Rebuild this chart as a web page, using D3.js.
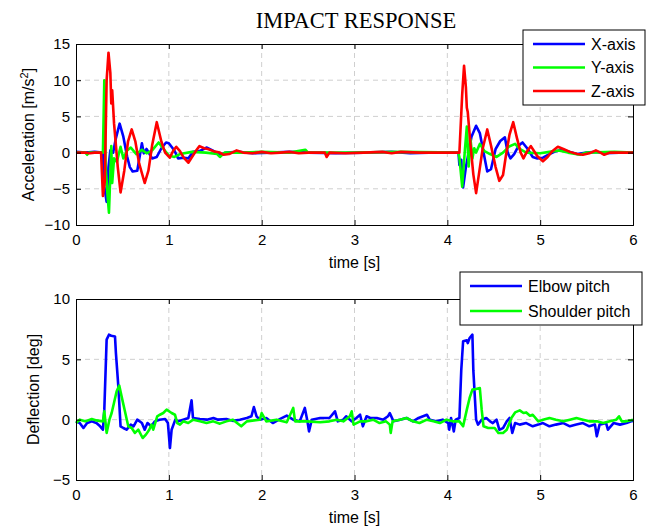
<!DOCTYPE html>
<html>
<head>
<meta charset="utf-8">
<script src="https://cdn.jsdelivr.net/npm/d3@7"></script>
<style>
  body { margin: 0; background: #fff; }
  svg { display: block; font-family: "Liberation Sans", Arial, sans-serif; }
  .tick text { font-size: 15px; fill: #000; }
  .axis path, .axis line { stroke: #000; }
</style>
</head>
<body>
<script>
// ---- data (time [s], value) ----
var accX = [[0,0.1],[0.1,0],[0.2,0.1],[0.29,0],[0.305,-4.7],[0.33,-6.8],[0.35,-2],[0.37,0.3],[0.4,0],[0.43,2],[0.47,4.0],[0.51,2.2],[0.55,-0.5],[0.58,-2],[0.61,-2.6],[0.66,-2.5],[0.68,-1],[0.71,1.3],[0.73,-0.1],[0.76,0.5],[0.82,-0.8],[0.87,-0.6],[0.92,0.6],[0.97,1.4],[1.0,1.3],[1.06,0.3],[1.1,-0.8],[1.16,-0.7],[1.21,-0.8],[1.26,0.1],[1.33,0.2],[1.41,0.7],[1.47,0.3],[1.55,-0.3],[1.62,0],[1.75,0.1],[1.9,-0.1],[2.1,0],[2.3,0.1],[2.5,0],[2.8,-0.1],[3.1,0],[3.4,0.1],[3.6,-0.1],[3.8,0],[4.12,0],[4.13,-1.7],[4.15,-1],[4.17,-4.8],[4.2,-2],[4.23,0],[4.26,2.2],[4.31,3.7],[4.35,2.7],[4.39,0],[4.43,-2.6],[4.47,-2.3],[4.52,0.5],[4.57,1.6],[4.62,2.1],[4.65,0],[4.68,-0.8],[4.72,-0.2],[4.77,1],[4.81,1.4],[4.86,0.6],[4.92,-0.6],[4.97,-0.8],[5.03,-0.7],[5.1,-0.2],[5.17,0.2],[5.24,0.4],[5.32,0.1],[5.4,-0.2],[5.5,0],[5.6,0.1],[5.7,-0.1],[5.85,0],[6,0]];
var accY = [[0,0],[0.1,0],[0.12,-0.3],[0.14,0],[0.29,0],[0.305,10.0],[0.32,-2],[0.34,-6],[0.355,-8.3],[0.37,-3],[0.38,0.9],[0.39,-4.2],[0.41,-0.8],[0.44,-1.3],[0.48,0.8],[0.51,-0.8],[0.55,0.3],[0.59,0.7],[0.65,-0.2],[0.71,0.4],[0.76,-0.1],[0.82,0.3],[0.89,1.4],[0.95,0.4],[1.0,-0.4],[1.06,-0.6],[1.12,-0.2],[1.25,0.1],[1.4,0],[1.52,-0.2],[1.55,-0.6],[1.6,0],[1.8,0],[2.0,0.1],[2.3,0],[2.47,0.4],[2.5,0],[3.0,0],[3.5,0.1],[4.12,0],[4.13,-0.7],[4.16,-4.7],[4.19,0.5],[4.21,3.6],[4.23,-1.9],[4.25,1.8],[4.27,-0.8],[4.29,0.6],[4.31,0],[4.35,1.2],[4.4,0.2],[4.46,-0.2],[4.53,-0.6],[4.6,0],[4.66,0.8],[4.73,1.2],[4.78,0.5],[4.85,0],[5.0,-0.1],[5.1,0.1],[5.2,0.3],[5.3,0],[5.43,-0.3],[5.5,0],[5.8,0.1],[6,0]];
var accZ = [[0,0],[0.1,0],[0.15,-0.1],[0.2,0],[0.27,0],[0.29,-6.0],[0.31,-4],[0.33,10],[0.35,13.8],[0.37,11],[0.38,6.8],[0.39,8.6],[0.41,4],[0.45,-2],[0.48,-5.5],[0.52,-2.5],[0.56,1.5],[0.6,3.2],[0.64,1.5],[0.68,-1.5],[0.74,-4.2],[0.78,-2.5],[0.82,1],[0.87,4.2],[0.92,1.5],[0.96,0],[1.01,-0.7],[1.05,0.3],[1.08,0.8],[1.12,0.2],[1.16,-0.7],[1.21,-1.4],[1.26,-0.4],[1.3,0.4],[1.33,0.9],[1.38,0.6],[1.42,0.5],[1.48,0.2],[1.55,0],[1.59,-0.3],[1.65,-0.2],[1.73,0.3],[1.8,0],[1.9,-0.1],[2.0,0.1],[2.1,-0.1],[2.2,0],[2.3,0.1],[2.4,-0.1],[2.5,0],[2.68,0],[2.7,-0.6],[2.73,0],[2.9,-0.1],[3.1,0],[3.3,0.1],[3.4,-0.1],[3.5,0.1],[3.7,0],[4.13,0],[4.16,8],[4.18,12.0],[4.2,9],[4.21,6.2],[4.22,5.6],[4.25,1],[4.28,-3],[4.31,-5.6],[4.34,-3],[4.38,0.5],[4.43,3.2],[4.47,1],[4.52,-2],[4.56,-3.9],[4.6,-3.1],[4.63,-0.5],[4.67,2.5],[4.71,4.2],[4.75,2],[4.79,0],[4.82,-0.8],[4.86,0.2],[4.9,0.9],[4.93,0.3],[4.97,-0.5],[5.03,-1.2],[5.08,-0.6],[5.13,0.2],[5.19,0.8],[5.25,0.5],[5.32,0.1],[5.4,-0.2],[5.46,-0.3],[5.53,-0.1],[5.6,0.3],[5.65,0],[5.69,-0.3],[5.75,0],[5.85,0],[6,0]];

var elbowPitch = [[0,-0.14],[0.04,-0.28],[0.08,-0.69],[0.12,-0.28],[0.17,-0.14],[0.22,-0.28],[0.26,-0.55],[0.29,-0.83],[0.305,0.83],[0.33,6.63],[0.355,7.04],[0.38,6.96],[0.42,6.9],[0.43,5.52],[0.456,2.76],[0.48,-0.55],[0.51,-0.69],[0.545,-0.83],[0.59,-0.41],[0.62,-0.55],[0.66,0],[0.71,-0.28],[0.74,-0.83],[0.77,-0.28],[0.81,-0.55],[0.85,-0.14],[0.9,0],[0.96,0.06],[0.99,-0.28],[1.012,-2.35],[1.03,-0.83],[1.07,0],[1.1,-0.14],[1.155,0],[1.21,0.14],[1.245,1.6],[1.26,0.14],[1.335,0.06],[1.41,0],[1.48,0.14],[1.53,0],[1.62,0.06],[1.69,-0.1],[1.765,0],[1.84,0.14],[1.89,0.28],[1.916,1.05],[1.945,0.28],[1.98,0],[2.05,0.14],[2.12,-0.28],[2.2,0.06],[2.27,0.33],[2.34,0],[2.41,-0.14],[2.465,0.97],[2.49,0],[2.51,-0.97],[2.54,0],[2.63,0.14],[2.7,0.14],[2.73,0.14],[2.79,0.69],[2.82,-0.14],[2.88,0],[2.91,0.28],[2.97,-0.14],[3.02,0.14],[3.06,0.41],[3.09,-0.55],[3.13,0.28],[3.17,0.14],[3.24,0.14],[3.31,0],[3.36,0.28],[3.38,0.55],[3.42,-0.14],[3.49,0],[3.56,0.14],[3.63,-0.14],[3.69,0.14],[3.78,0.41],[3.81,0],[3.88,-0.14],[3.95,0],[4.01,-0.28],[4.02,-0.83],[4.04,0.14],[4.07,-0.97],[4.09,0],[4.13,0.14],[4.15,4.1],[4.17,6.5],[4.21,6.57],[4.22,6.35],[4.24,6.77],[4.27,7.04],[4.28,4.1],[4.31,0],[4.33,-0.41],[4.37,0],[4.42,0.14],[4.46,-0.14],[4.49,-0.28],[4.53,0],[4.56,-0.83],[4.6,-0.7],[4.64,-0.14],[4.67,0.14],[4.7,-1.1],[4.73,-0.28],[4.78,-0.41],[4.85,-0.28],[4.92,-0.55],[4.98,-0.41],[5.03,-0.28],[5.1,-0.55],[5.17,-0.41],[5.25,-0.28],[5.32,-0.55],[5.39,-0.41],[5.46,-0.28],[5.53,-0.55],[5.59,-0.41],[5.61,-1.38],[5.64,-0.41],[5.71,-0.28],[5.73,-0.83],[5.79,-0.28],[5.86,-0.41],[5.93,-0.28],[5.98,-0.14],[6,-0.1]];
var shoulderPitch = [[0,-0.28],[0.04,0],[0.1,-0.14],[0.17,0.06],[0.22,-0.06],[0.29,-0.14],[0.305,0.69],[0.33,-1.1],[0.36,0],[0.384,0.55],[0.409,1.38],[0.438,2.35],[0.466,2.82],[0.491,1.93],[0.527,0.69],[0.563,-0.55],[0.6,-0.69],[0.635,-1.1],[0.671,-0.83],[0.718,-1.52],[0.753,-1.24],[0.789,-0.83],[0.814,-0.41],[0.832,-0.83],[0.875,0.28],[0.904,0.41],[0.94,0.55],[0.976,0.83],[1.03,0.55],[1.066,0.41],[1.091,-0.28],[1.12,-0.41],[1.155,-0.14],[1.209,-0.28],[1.263,0],[1.335,-0.14],[1.406,-0.28],[1.478,-0.14],[1.55,-0.33],[1.62,-0.14],[1.69,0],[1.78,-0.55],[1.84,-0.14],[1.98,0],[2.0,0.55],[2.05,-0.14],[2.16,0],[2.27,-0.22],[2.34,0.97],[2.36,-0.14],[2.49,-0.14],[2.63,-0.22],[2.73,-0.14],[2.81,0],[2.88,-0.14],[2.95,0.28],[2.97,0.69],[2.99,-0.41],[3.06,-0.14],[3.13,-0.14],[3.2,0],[3.27,-0.28],[3.34,-0.14],[3.38,-0.41],[3.39,-1.1],[3.41,-0.14],[3.49,0],[3.56,0.14],[3.63,-0.14],[3.7,-0.28],[3.78,0],[3.85,-0.14],[3.92,-0.28],[3.99,0],[4.06,-0.14],[4.13,-0.14],[4.17,-0.55],[4.21,0.83],[4.24,1.8],[4.27,2.49],[4.31,2.54],[4.35,2.62],[4.37,0.83],[4.39,-0.55],[4.44,-0.69],[4.51,-0.69],[4.55,-1.1],[4.6,-1.1],[4.64,-0.83],[4.69,0.14],[4.73,0.6],[4.78,0.77],[4.82,0.55],[4.85,0.6],[4.89,0.33],[4.92,0.41],[4.98,-0.14],[5.03,0],[5.1,0.14],[5.17,0],[5.25,-0.14],[5.32,0],[5.39,0.14],[5.46,0],[5.53,-0.14],[5.61,-0.14],[5.68,-0.28],[5.75,-0.14],[5.82,0],[5.85,0.28],[5.88,-0.14],[5.93,-0.14],[5.98,-0.05],[6,0]];

var timeTicks = [0, 1, 2, 3, 4, 5, 6];
var accTicks = [-10, -5, 0, 5, 10, 15];
var deflTicks = [-5, 0, 5, 10];

var accNames = ["X-axis", "Y-axis", "Z-axis"];
var deflNames = ["Elbow pitch", "Shoulder pitch"];
var blue = "#0000ff", green = "#00ff00", red = "#ff0000";

let outerWidth = 655;
let outerHeight = 527;

let svg = d3.select("body")
    .append("svg")
    .attr("width", outerWidth)
    .attr("height", outerHeight);

svg.append("rect")
    .attr("width", outerWidth)
    .attr("height", outerHeight)
    .attr("fill", "#fff");

let xScale = d3.scaleLinear().domain([0, 6]).range([76, 633]);

function drawPanel(opts) {
    let yScale = d3.scaleLinear().domain(opts.domain).range([opts.bottom, opts.top]);
    let g = svg.append("g");

    // dashed grid
    g.selectAll(".vgrid")
        .data(timeTicks.slice(1, -1))
        .enter()
        .append("line")
        .attr("x1", function(d) { return xScale(d); })
        .attr("x2", function(d) { return xScale(d); })
        .attr("y1", opts.top)
        .attr("y2", opts.bottom)
        .attr("stroke", "#cfcfcf")
        .attr("stroke-dasharray", "5,4");
    g.selectAll(".hgrid")
        .data(opts.ticks.slice(1, -1))
        .enter()
        .append("line")
        .attr("x1", xScale(0))
        .attr("x2", xScale(6))
        .attr("y1", function(d) { return yScale(d); })
        .attr("y2", function(d) { return yScale(d); })
        .attr("stroke", "#cfcfcf")
        .attr("stroke-dasharray", "5,4");

    // data lines
    let line = d3.line()
        .x(function(d) { return xScale(d[0]); })
        .y(function(d) { return yScale(d[1]); });
    opts.series.forEach(function(s) {
        g.append("path")
            .attr("d", line(s.values))
            .attr("fill", "none")
            .attr("stroke", s.color)
            .attr("stroke-width", 2.6)
            .attr("stroke-linejoin", "round");
    });

    // axes with inward ticks on all four sides
    g.append("g")
        .attr("class", "axis")
        .attr("transform", "translate(0," + opts.bottom + ")")
        .call(d3.axisBottom(xScale).tickValues(timeTicks).tickSize(-5).tickPadding(9).tickFormat(d3.format("d")));
    g.append("g")
        .attr("class", "axis")
        .attr("transform", "translate(0," + opts.top + ")")
        .call(d3.axisTop(xScale).tickValues(timeTicks).tickSize(-5).tickFormat(""));
    g.append("g")
        .attr("class", "axis")
        .attr("transform", "translate(" + xScale(0) + ",0)")
        .call(d3.axisLeft(yScale).tickValues(opts.ticks).tickSize(-5).tickPadding(6).tickFormat(d3.format("d")));
    g.append("g")
        .attr("class", "axis")
        .attr("transform", "translate(" + xScale(6) + ",0)")
        .call(d3.axisRight(yScale).tickValues(opts.ticks).tickSize(-5).tickFormat(""));
    g.selectAll(".axis .domain").attr("stroke-width", 1);

    // axis labels
    g.append("text")
        .attr("x", (xScale(0) + xScale(6)) / 2)
        .attr("y", opts.bottom + 43)
        .attr("text-anchor", "middle")
        .style("font-size", "16px")
        .text("time [s]");
    let yl = g.append("text")
        .attr("transform", "translate(" + opts.ylabelX + "," + (opts.top + opts.bottom) / 2 + ") rotate(-90)")
        .attr("text-anchor", "middle")
        .style("font-size", "16px")
        .text(opts.ylabel);
    if (opts.ylabelSup) {
        yl.append("tspan").attr("baseline-shift", "super").style("font-size", "11px").text(opts.ylabelSup);
        yl.append("tspan").text("]");
    }

    // legend
    let lg = g.append("g").attr("transform", "translate(" + opts.legend.x + "," + opts.legend.y + ")");
    lg.append("rect")
        .attr("width", opts.legend.w)
        .attr("height", opts.legend.h)
        .attr("fill", "#fff")
        .attr("stroke", "#000");
    let items = lg.selectAll(".item")
        .data(opts.series)
        .enter()
        .append("g")
        .attr("transform", function(d, i) { return "translate(0," + (14 + i * opts.legend.step) + ")"; });
    items.append("line")
        .attr("x1", 10).attr("x2", 62)
        .attr("stroke", function(d) { return d.color; })
        .attr("stroke-width", 2.6);
    items.append("text")
        .attr("x", 68)
        .attr("dy", "0.36em")
        .style("font-size", "16px")
        .text(function(d) { return d.name; });
}

drawPanel({
    top: 44, bottom: 225,
    domain: [-10, 15], ticks: accTicks,
    ylabel: "Acceleration [m/s", ylabelSup: "2", ylabelX: 34,
    series: [
        {name: accNames[0], color: blue, values: accX},
        {name: accNames[1], color: green, values: accY},
        {name: accNames[2], color: red, values: accZ}
    ],
    legend: {x: 523, y: 30, w: 122, h: 75, step: 23.5}
});

drawPanel({
    top: 299, bottom: 480,
    domain: [-5, 10], ticks: deflTicks,
    ylabel: "Deflection [deg]", ylabelX: 39,
    series: [
        {name: deflNames[0], color: blue, values: elbowPitch},
        {name: deflNames[1], color: green, values: shoulderPitch}
    ],
    legend: {x: 460, y: 272, w: 182, h: 53, step: 25}
});

svg.append("text")
    .attr("x", 356)
    .attr("y", 28)
    .attr("text-anchor", "middle")
    .style("font-family", "'Liberation Serif', 'DejaVu Serif', serif")
    .style("font-size", "22.5px")
    .text("IMPACT RESPONSE");
</script>
</body>
</html>
